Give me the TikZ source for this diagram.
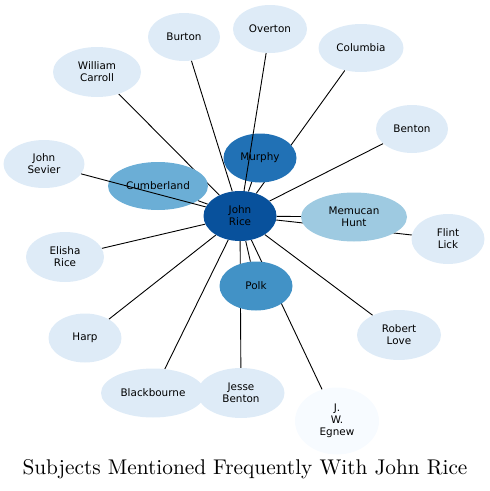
\documentclass[tikz,border=0pt]{standalone}
\usepackage{fontspec}
\newfontfamily\nodefont{DejaVu Sans}
\usetikzlibrary{shapes.geometric}
\pgfdeclarelayer{bg}
\pgfsetlayers{bg,main}
\definecolor{c0}{HTML}{08519C}
\definecolor{c1}{HTML}{2171B5}
\definecolor{c2}{HTML}{4292C6}
\definecolor{c3}{HTML}{6BAED6}
\definecolor{c4}{HTML}{9ECAE1}
\definecolor{c5}{HTML}{DEEBF7}
\definecolor{c6}{HTML}{F7FBFF}
\tikzset{
  ent/.style={ellipse, inner sep=0pt, align=center, font=\nodefont\fontsize{10.4}{12}\selectfont, text=black},
  link/.style={draw=black, line width=0.9pt},
}
\begin{document}
\begin{tikzpicture}[x=1pt,y=-1pt]
\useasboundingbox (0,0) rectangle (490,491);
\node[ent, fill=c0, minimum width=73, minimum height=50] (jr) at (240,216) {John\\Rice};
\node[ent, fill=c1, minimum width=73, minimum height=49] (murphy) at (260,158) {Murphy};
\node[ent, fill=c3, minimum width=100, minimum height=48] (cumb) at (158,186) {Cumberland};
\node[ent, fill=c4, minimum width=106, minimum height=49] (hunt) at (354,217) {Memucan\\Hunt};
\node[ent, fill=c2, minimum width=73, minimum height=49] (polk) at (256,286) {Polk};
\node[ent, fill=c5, minimum width=73, minimum height=50] (flint) at (448,239) {Flint\\Lick};
\node[ent, fill=c5, minimum width=72, minimum height=48] (burton) at (184,37) {Burton};
\node[ent, fill=c5, minimum width=74, minimum height=48] (overton) at (270,29) {Overton};
\node[ent, fill=c5, minimum width=85, minimum height=48] (columbia) at (361,48) {Columbia};
\node[ent, fill=c5, minimum width=88, minimum height=50] (carroll) at (97,72) {William\\Carroll};
\node[ent, fill=c5, minimum width=72, minimum height=48] (benton) at (412,129) {Benton};
\node[ent, fill=c5, minimum width=81, minimum height=48] (sevier) at (44,164) {John\\Sevier};
\node[ent, fill=c5, minimum width=78, minimum height=50] (elisha) at (65,257) {Elisha\\Rice};
\node[ent, fill=c5, minimum width=73, minimum height=49] (harp) at (85,338) {Harp};
\node[ent, fill=c5, minimum width=84, minimum height=50] (love) at (399,335) {Robert\\Love};
\node[ent, fill=c5, minimum width=104, minimum height=49] (black) at (153,393) {Blackbourne};
\node[ent, fill=c5, minimum width=87, minimum height=50] (jesse) at (241,393) {Jesse\\Benton};
\node[ent, fill=c6, minimum width=84, minimum height=67] (egnew) at (337,421) {J.\\W.\\Egnew};
\begin{pgfonlayer}{bg}
\foreach \t in {murphy,cumb,hunt,polk,flint,burton,columbia,carroll,benton,elisha,harp,love,black,jesse,egnew}
  \draw[link] (jr) -- (\t);
\end{pgfonlayer}
\draw[link] (jr) -- (overton);
\draw[link] (jr) -- (sevier);
\node[font=\fontsize{10}{12}\selectfont, inner sep=0pt, scale=2.13] (title) at (245,469) {Subjects Mentioned Frequently With John Rice};
\end{tikzpicture}
\end{document}
